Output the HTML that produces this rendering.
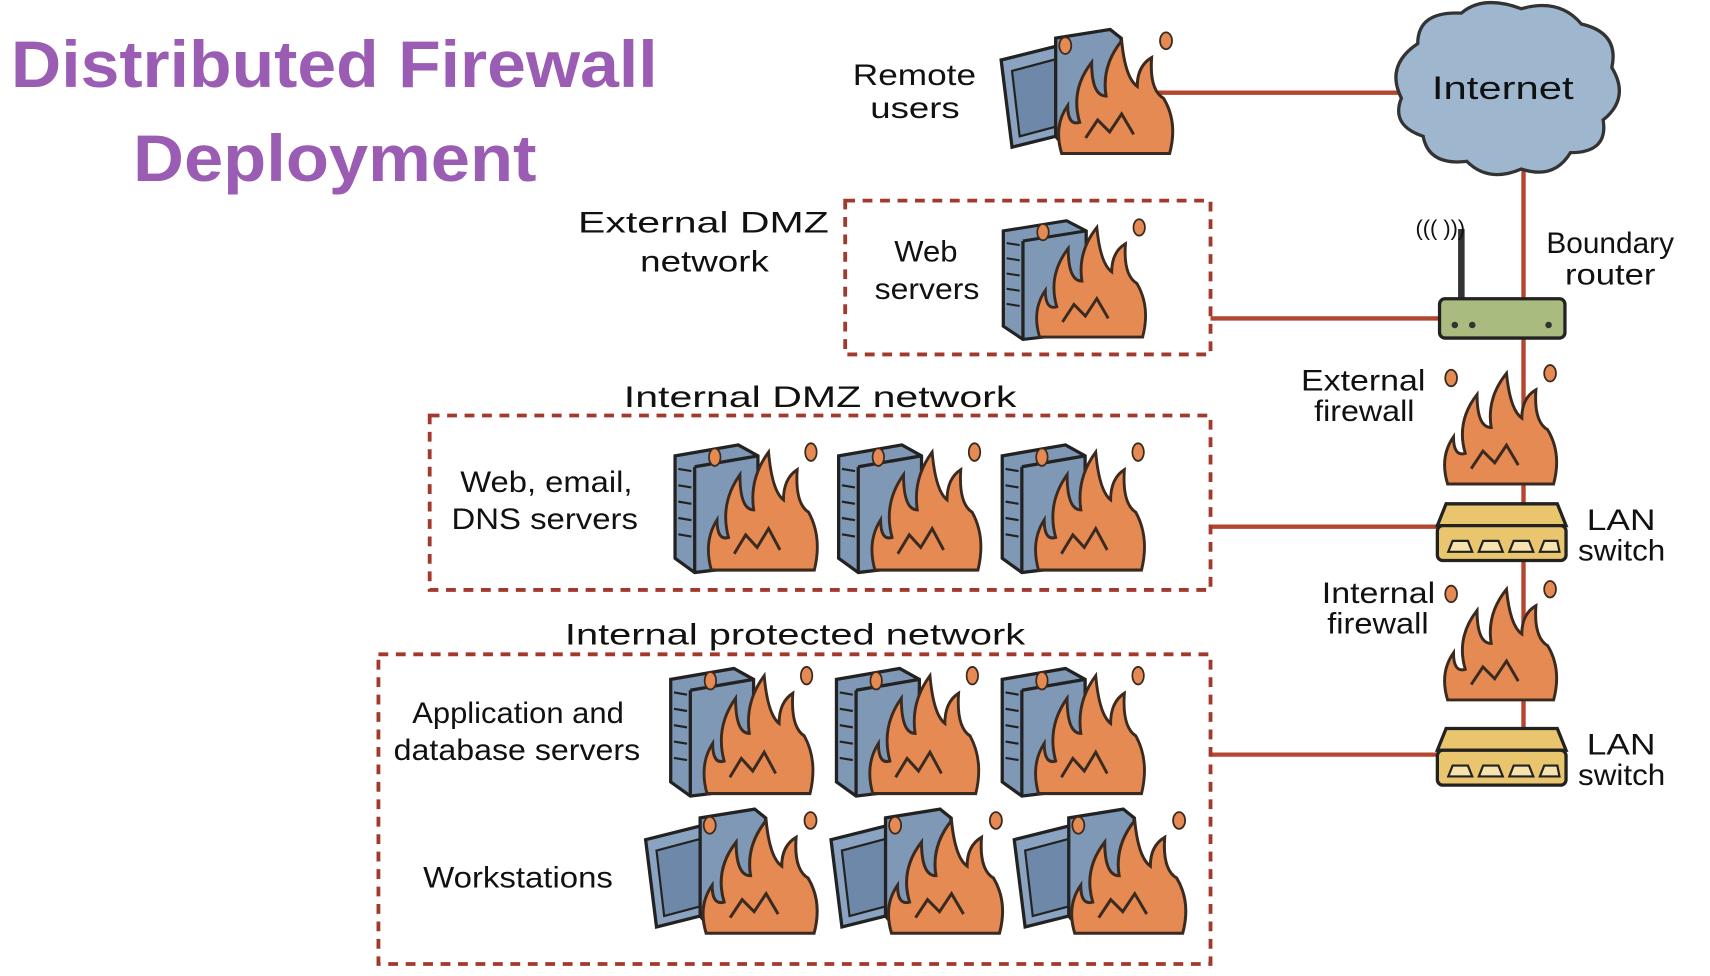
<!DOCTYPE html>
<html><head><meta charset="utf-8"><style>
html,body{margin:0;padding:0;background:#fff;}
svg{display:block}
text{font-family:"Liberation Sans",sans-serif;fill:#111;}
.t{font-size:27px;}
.title{font-size:60px;font-weight:bold;fill:#9b5cb3;}
</style></head><body>
<svg width="1710" height="976" viewBox="0 0 1568 895" preserveAspectRatio="none" xmlns="http://www.w3.org/2000/svg">
<defs>
<g id="flame">
<path d="M5,98 Q-2,75 10,58 Q10,75 20,72 Q12,45 30,22 Q30,50 42,50 Q38,25 55,4 Q58,35 68,42 Q68,25 80,18 Q78,45 90,52 Q102,72 95,98 Z" fill="#e58a52" stroke="#3a2a20" stroke-width="2.5"/>
<path d="M25,85 L35,70 L45,80 L55,65 L65,82" fill="none" stroke="#3a2a20" stroke-width="2.5"/>
<ellipse cx="8" cy="8" rx="5" ry="7" fill="#e58a52" stroke="#3a2a20" stroke-width="1.5"/>
<ellipse cx="92" cy="4" rx="5" ry="7" fill="#e58a52" stroke="#3a2a20" stroke-width="1.5"/>
</g>
<g id="server">
<path d="M2,18 L60,8 L78,18 L78,118 L20,125 L2,112 Z" fill="#7f98b5" stroke="#222" stroke-width="3"/>
<path d="M20,28 L78,18 M20,28 L20,125" stroke="#222" stroke-width="3" fill="none"/>
<path d="M5,30 L17,32 M5,45 L17,47 M5,60 L17,62 M5,75 L17,77 M5,90 L17,92" stroke="#222" stroke-width="2"/>
<g transform="translate(30,10) scale(1.05,1.15)"><use href="#flame"/></g>
</g>
<g id="ws">
<path d="M0,30 L60,15 L70,95 L10,110 Z" fill="#8aa3c0" stroke="#222" stroke-width="3"/>
<path d="M10,40 L55,28 L62,88 L17,100 Z" fill="#6d88a8" stroke="#222" stroke-width="2"/>
<path d="M50,10 L100,2 L110,10 L110,105 L60,112 L50,100 Z" fill="#7f98b5" stroke="#222" stroke-width="3"/>
<g transform="translate(50,8) scale(1.1,1.1)"><use href="#flame"/></g>
</g>
<g id="sw">
<path d="M8,0 L110,0 L118,20 L0,20 Z" fill="#e9c56d" stroke="#222" stroke-width="3"/>
<rect x="0" y="20" width="118" height="32" rx="5" fill="#e9c56d" stroke="#222" stroke-width="3"/>
<path d="M10,44 l4,-10 h14 l4,10 z M38,44 l4,-10 h14 l4,10 z M66,44 l4,-10 h14 l4,10 z M94,44 l4,-10 h12 l2,10 z" fill="#f6e3ad" stroke="#222" stroke-width="2"/>
</g>
</defs>

<text class="title" x="10" y="80" textLength="593" lengthAdjust="spacingAndGlyphs">Distributed Firewall</text>
<text class="title" x="122" y="166" textLength="370" lengthAdjust="spacingAndGlyphs">Deployment</text>

<g stroke="#b4452f" stroke-width="4" fill="none">
<line x1="1040" y1="85" x2="1282" y2="85"/>
<line x1="1397" y1="150" x2="1397" y2="692"/>
<line x1="1110" y1="292" x2="1322" y2="292"/>
<line x1="1110" y1="483" x2="1320" y2="483"/>
<line x1="1110" y1="692" x2="1320" y2="692"/>
</g>

<path d="M1300,40 Q1300,10 1340,12 Q1360,-5 1395,8 Q1430,-2 1450,22 Q1485,30 1478,62 Q1495,90 1470,110 Q1475,140 1440,140 Q1425,165 1395,155 Q1365,168 1345,148 Q1310,152 1305,125 Q1275,115 1285,90 Q1270,60 1300,40 Z" fill="#9fb6cf" stroke="#333" stroke-width="3"/>
<text class="t" x="1313" y="91" style="font-size:30px" textLength="130" lengthAdjust="spacingAndGlyphs">Internet</text>

<line x1="1340" y1="210" x2="1340" y2="275" stroke="#333" stroke-width="6"/>
<text x="1298" y="216" style="font-size:20px">((( )))</text>
<rect x="1320" y="274" width="115" height="36" rx="5" fill="#a9bb7f" stroke="#222" stroke-width="3"/>
<circle cx="1334" cy="298" r="3" fill="#333"/><circle cx="1350" cy="298" r="3" fill="#333"/><circle cx="1420" cy="298" r="3" fill="#333"/>
<text class="t" x="1418" y="232" textLength="117" lengthAdjust="spacingAndGlyphs">Boundary</text><text class="t" x="1435" y="261" textLength="83" lengthAdjust="spacingAndGlyphs">router</text>

<g transform="translate(1322,338) scale(1.08,1.08)"><use href="#flame"/></g>
<text class="t" x="1193" y="358" textLength="114" lengthAdjust="spacingAndGlyphs">External</text><text class="t" x="1205" y="386" textLength="92" lengthAdjust="spacingAndGlyphs">firewall</text>
<g transform="translate(1318,462)"><use href="#sw"/></g>
<text class="t" x="1455" y="486" textLength="63" lengthAdjust="spacingAndGlyphs">LAN</text><text class="t" x="1447" y="514" textLength="80" lengthAdjust="spacingAndGlyphs">switch</text>
<g transform="translate(1322,536) scale(1.08,1.08)"><use href="#flame"/></g>
<text class="t" x="1212" y="553" textLength="104" lengthAdjust="spacingAndGlyphs">Internal</text><text class="t" x="1217" y="581" textLength="93" lengthAdjust="spacingAndGlyphs">firewall</text>
<g transform="translate(1318,668)"><use href="#sw"/></g>
<text class="t" x="1455" y="692" textLength="63" lengthAdjust="spacingAndGlyphs">LAN</text><text class="t" x="1447" y="720" textLength="80" lengthAdjust="spacingAndGlyphs">switch</text>

<g stroke="#a3392d" stroke-width="3.5" stroke-dasharray="9,7" fill="none">
<rect x="775" y="184" width="335" height="141"/>
<rect x="394" y="381" width="716" height="160"/>
<rect x="347" y="600" width="763" height="284"/>
</g>

<text class="t" x="782" y="78" textLength="113" lengthAdjust="spacingAndGlyphs">Remote</text><text class="t" x="798" y="108" textLength="82" lengthAdjust="spacingAndGlyphs">users</text>
<g transform="translate(918,25)"><use href="#ws"/></g>

<text class="t" x="530" y="213" textLength="230" lengthAdjust="spacingAndGlyphs">External DMZ</text><text class="t" x="587" y="249" textLength="118" lengthAdjust="spacingAndGlyphs">network</text>
<text class="t" x="820" y="240" textLength="58" lengthAdjust="spacingAndGlyphs">Web</text><text class="t" x="802" y="274" textLength="96" lengthAdjust="spacingAndGlyphs">servers</text>
<g transform="translate(918,195) scale(1,0.93)"><use href="#server"/></g>

<text class="t" x="572" y="373" textLength="360" lengthAdjust="spacingAndGlyphs">Internal DMZ network</text>
<text class="t" x="422" y="451" textLength="158" lengthAdjust="spacingAndGlyphs">Web, email,</text><text class="t" x="414" y="485" textLength="171" lengthAdjust="spacingAndGlyphs">DNS servers</text>
<g transform="translate(617,400)"><use href="#server"/></g>
<g transform="translate(767,400)"><use href="#server"/></g>
<g transform="translate(917,400)"><use href="#server"/></g>

<text class="t" x="518" y="591" textLength="422" lengthAdjust="spacingAndGlyphs">Internal protected network</text>
<text class="t" x="378" y="663" textLength="194" lengthAdjust="spacingAndGlyphs">Application and</text><text class="t" x="361" y="697" textLength="226" lengthAdjust="spacingAndGlyphs">database servers</text>
<g transform="translate(613,605)"><use href="#server"/></g>
<g transform="translate(765,605)"><use href="#server"/></g>
<g transform="translate(917,605)"><use href="#server"/></g>
<text class="t" x="388" y="814" textLength="174" lengthAdjust="spacingAndGlyphs">Workstations</text>
<g transform="translate(592,740)"><use href="#ws"/></g>
<g transform="translate(762,740)"><use href="#ws"/></g>
<g transform="translate(930,740)"><use href="#ws"/></g>
</svg>
</body></html>
